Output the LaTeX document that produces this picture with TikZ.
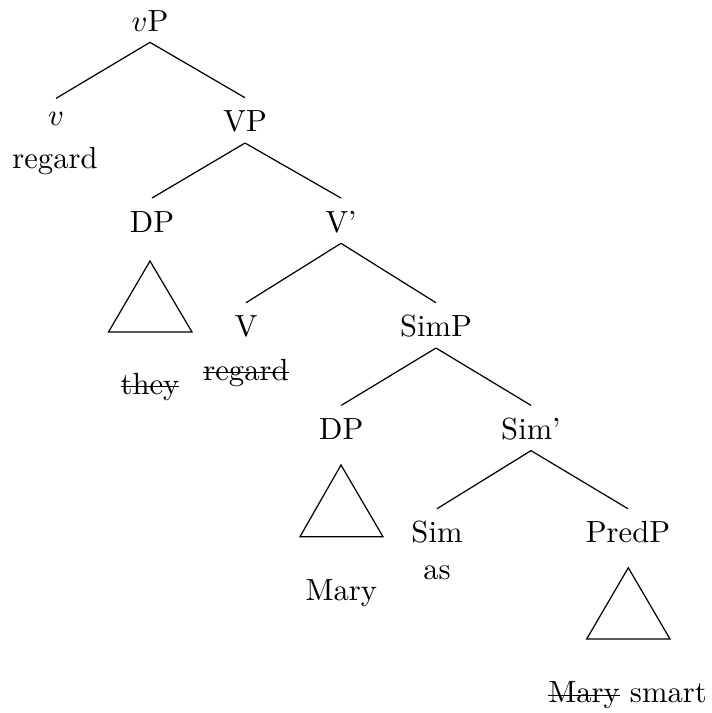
\documentclass[tikz,border=0pt]{standalone}
\newcommand\strk[1]{\setbox0\hbox{#1}\rlap{\rule[0.5ex]{\wd0}{0.4pt}}\box0\relax}
\begin{document}
\begin{tikzpicture}[x=0.3268pt,y=-0.3268pt,
  lab/.style={anchor=base,inner sep=0pt,text height=10.9pt,text depth=3.5pt},
  word/.style={anchor=base,inner sep=0pt},
  branch/.style={line width=0.4pt},
  tri/.style={line width=0.4pt,line join=miter}]
\useasboundingbox (0,0) rectangle (712,713);
% labels
\node[lab] (vP) at (150,31) {$v$P};
\node[lab,text height=8.5pt] (v) at (56,125) {$v$};
\node[word] (regard1) at (55,168) {regard};
\node[lab] (VP) at (245,131.7) {VP};
\node[lab] (DP1) at (152,232) {DP};
\node[lab] (Vbar) at (341,232) {V'};
\node[word] (they) at (150,394) {\strk{they}};
\node[lab] (V) at (246,336.7) {V};
\node[word] (regard2) at (246,380) {\strk{regard}};
\node[lab] (SimP) at (436,336.7) {SimP};
\node[lab] (DP2) at (341.3,439.3) {DP};
\node[lab] (Simbar) at (531,439.3) {Sim'};
\node[word] (Mary) at (341.3,600) {Mary};
\node[lab] (Sim) at (437,542.7) {Sim};
\node[word] (as) at (437,579) {as};
\node[lab] (PredP) at (628,542.7) {PredP};
\node[word] (marysmart) at (627.5,702.7) {\strk{Mary} smart};
% branches
\draw[branch] (vP.south) -- (v.north);
\draw[branch] (vP.south) -- (VP.north);
\draw[branch] (VP.south) -- (DP1.north);
\draw[branch] (VP.south) -- (Vbar.north);
\draw[branch] (Vbar.south) -- (V.north);
\draw[branch] (Vbar.south) -- (SimP.north);
\draw[branch] (SimP.south) -- (DP2.north);
\draw[branch] (SimP.south) -- (Simbar.north);
\draw[branch] (Simbar.south) -- (Sim.north);
\draw[branch] (Simbar.south) -- (PredP.north);
% triangles
\draw[tri] (150,261) -- (108.5,332) -- (192,332) -- cycle;
\draw[tri] (341,465) -- (300,536.7) -- (383,536.7) -- cycle;
\draw[tri] (628.3,567.7) -- (586.7,639) -- (670,639) -- cycle;
\end{tikzpicture}
\end{document}
